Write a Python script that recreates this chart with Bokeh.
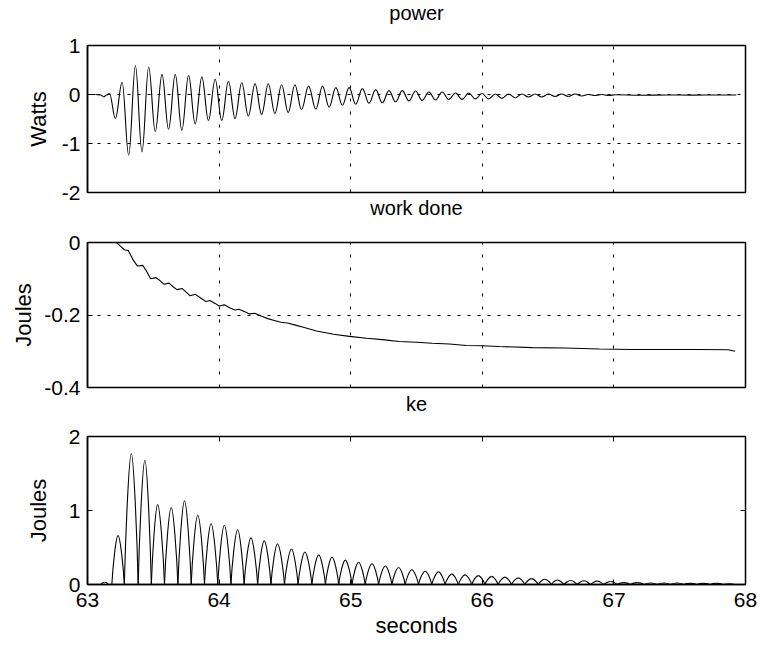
from bokeh.plotting import figure
from bokeh.layouts import column
from bokeh.models import Range1d, FixedTicker, LinearAxis, Grid, Title
from bokeh.embed import file_html
from bokeh.resources import INLINE

# ---------------- data ----------------
x_ticks = [63, 64, 65, 66, 67, 68]
x_tick_labels = ["63", "64", "65", "66", "67", "68"]

# power (Watts): successive extremes of the oscillation
pw_t = [63.00, 63.06, 63.10, 63.124, 63.145, 63.167, 63.212, 63.263, 63.313, 63.364,
        63.414, 63.465, 63.515, 63.566, 63.616, 63.667, 63.717, 63.768, 63.818, 63.869,
        63.919, 63.970, 64.020, 64.071, 64.121, 64.172, 64.222, 64.273, 64.323, 64.374,
        64.424, 64.475, 64.525, 64.576, 64.626, 64.680, 64.735, 64.786, 64.836, 64.887,
        64.937, 64.988, 65.038, 65.089, 65.139, 65.190, 65.240, 65.291, 65.341, 65.392,
        65.442, 65.493, 65.543, 65.594, 65.644, 65.695, 65.745, 65.796, 65.846, 65.897,
        65.947, 65.998, 66.048, 66.099, 66.149, 66.200, 66.250, 66.301, 66.351, 66.402,
        66.452, 66.503, 66.553, 66.604, 66.654, 66.705, 66.755, 66.806, 66.856, 66.907,
        66.96, 67.01, 67.2, 67.4, 67.6, 67.8, 67.93]
pw_v = [0, 0, -0.01, -0.05, -0.01, 0.02, -0.49, 0.25, -1.24, 0.59,
        -1.17, 0.56, -0.76, 0.41, -0.71, 0.41, -0.73, 0.39, -0.60, 0.36,
        -0.53, 0.31, -0.53, 0.27, -0.49, 0.24, -0.44, 0.22, -0.41, 0.22,
        -0.39, 0.20, -0.37, 0.20, -0.31, 0.17, -0.30, 0.17, -0.26, 0.14,
        -0.22, 0.14, -0.20, 0.12, -0.18, 0.10, -0.17, 0.08, -0.15, 0.08,
        -0.13, 0.07, -0.12, 0.05, -0.11, 0.05, -0.10, 0.03, -0.10, 0.03,
        -0.09, 0.02, -0.09, 0.01, -0.08, 0.01, -0.07, 0.01, -0.05, 0.01,
        -0.05, 0.01, -0.04, 0.01, -0.04, 0.01, -0.03, 0.00, -0.02, 0.00,
        -0.02, -0.005, -0.015, -0.01, -0.012, -0.01, -0.01]
pw_ticks = [-2, -1, 0, 1]
pw_tick_labels = ["-2", "-1", "0", "1"]

# work done (Joules)
wd_t = [63.00, 63.22, 63.25, 63.28, 63.31, 63.35, 63.38, 63.42, 63.45, 63.48,
        63.52, 63.55, 63.58, 63.62, 63.65, 63.68, 63.72, 63.75, 63.78, 63.82,
        63.86, 63.90, 63.93, 63.97, 64.00, 64.04, 64.08, 64.12, 64.15, 64.20,
        64.23, 64.27, 64.32, 64.37, 64.42, 64.47, 64.52, 64.58, 64.64, 64.70,
        64.74, 64.87, 64.99, 65.12, 65.24, 65.37, 65.50, 65.62, 65.75, 65.88,
        66.00, 66.13, 66.38, 66.63, 66.89, 67.14, 67.64, 67.87, 67.92]
wd_v = [0, 0, -0.01, -0.02, -0.022, -0.05, -0.065, -0.063, -0.08, -0.10,
        -0.097, -0.105, -0.115, -0.112, -0.122, -0.13, -0.127, -0.137, -0.147, -0.143,
        -0.153, -0.163, -0.16, -0.168, -0.175, -0.172, -0.18, -0.186, -0.184, -0.192,
        -0.197, -0.195, -0.203, -0.21, -0.215, -0.22, -0.222, -0.228, -0.234, -0.240,
        -0.244, -0.253, -0.259, -0.264, -0.268, -0.273, -0.275, -0.278, -0.28, -0.284,
        -0.285, -0.287, -0.29, -0.291, -0.294, -0.295, -0.295, -0.296, -0.30]
wd_ticks = [-0.4, -0.2, 0]
wd_tick_labels = ["-0.4", "-0.2", "0"]

# kinetic energy (Joules): peaks and the zero points between them
ke_peak_t = [63.13, 63.232, 63.333, 63.436, 63.533, 63.636, 63.737, 63.838, 63.939, 64.040,
             64.141, 64.242, 64.343, 64.444, 64.550, 64.652, 64.757, 64.858, 64.959, 65.060,
             65.162, 65.263, 65.364, 65.465, 65.566, 65.667, 65.768, 65.869, 65.970, 66.071,
             66.172, 66.273, 66.374, 66.475, 66.570, 66.672, 66.773, 66.874, 66.975, 67.076,
             67.177, 67.278, 67.380, 67.480, 67.580, 67.680, 67.780, 67.880]
ke_peak_v = [0.03, 0.66, 1.77, 1.68, 1.08, 1.04, 1.13, 0.94, 0.82, 0.80,
             0.74, 0.63, 0.59, 0.55, 0.48, 0.44, 0.40, 0.37, 0.33, 0.30,
             0.28, 0.25, 0.23, 0.20, 0.18, 0.17, 0.14, 0.13, 0.12, 0.11,
             0.10, 0.09, 0.08, 0.07, 0.06, 0.055, 0.05, 0.045, 0.04, 0.025,
             0.025, 0.02, 0.02, 0.02, 0.015, 0.015, 0.015, 0.01]
ke_zero_t = [63.00, 63.10, 63.16, 63.185, 63.28, 63.385, 63.485, 63.585, 63.687, 63.788,
             63.889, 63.990, 64.090, 64.190, 64.293, 64.394, 64.497, 64.600, 64.705, 64.808,
             64.909, 65.010, 65.110, 65.212, 65.313, 65.414, 65.515, 65.616, 65.717, 65.818,
             65.920, 66.020, 66.120, 66.222, 66.323, 66.424, 66.525, 66.620, 66.720, 66.820,
             66.920, 67.025, 67.125, 67.230, 67.330, 67.430, 67.530, 67.630, 67.730, 67.830,
             67.920]
ke_ticks = [0, 1, 2]
ke_tick_labels = ["0", "1", "2"]

# ---------------- styling ----------------
FONT = "Liberation Sans"
TICK_SIZE = "21px"
LABEL_SIZE = "22px"
TITLE_SIZE = "20px"
W = 758
LEFT = 87
RIGHT = 13


def smooth_segments(ts, vs, k0, k1, sharp_zero=False):
    """Cubic segments joining consecutive read extremes (flat at the extremes)."""
    seg = dict(x0=[], y0=[], x1=[], y1=[], cx0=[], cy0=[], cx1=[], cy1=[])
    for i in range(len(ts) - 1):
        t0, v0, t1, v1 = ts[i], vs[i], ts[i + 1], vs[i + 1]
        dt = t1 - t0
        seg["x0"].append(t0); seg["y0"].append(v0)
        seg["x1"].append(t1); seg["y1"].append(v1)
        if sharp_zero and v0 == 0 and v1 != 0:
            seg["cx0"].append(t0 + 0.15 * dt); seg["cy0"].append(0.35 * v1)
            seg["cx1"].append(t1 - k1 * dt); seg["cy1"].append(v1)
        elif sharp_zero and v1 == 0 and v0 != 0:
            seg["cx0"].append(t0 + k1 * dt); seg["cy0"].append(v0)
            seg["cx1"].append(t1 - 0.15 * dt); seg["cy1"].append(0.35 * v0)
        else:
            seg["cx0"].append(t0 + k0 * dt); seg["cy0"].append(v0)
            seg["cx1"].append(t1 - k0 * dt); seg["cy1"].append(v1)
    return seg


def base_fig(height, ylo, yhi, top, bottom, with_x_axis):
    p = figure(width=W, height=height, x_range=Range1d(63, 68), y_range=Range1d(ylo, yhi),
               x_axis_location="below" if with_x_axis else None,
               toolbar_location=None, output_backend="svg",
               min_border_left=LEFT, min_border_right=RIGHT,
               min_border_top=top, min_border_bottom=bottom)
    p.outline_line_color = "black"
    p.outline_line_width = 1.5
    p.outline_line_alpha = 1.0
    p.background_fill_color = "white"
    p.border_fill_color = "white"
    p.grid.visible = False
    return p


def style_yaxis(p, ylabel, yticks, ylabels, label_standoff):
    ya = p.yaxis[0]
    ya.ticker = FixedTicker(ticks=yticks)
    ya.major_label_overrides = dict(zip(yticks, ylabels))
    ya.axis_label = ylabel
    ya.axis_label_text_font = FONT
    ya.axis_label_text_font_size = LABEL_SIZE
    ya.axis_label_text_font_style = "normal"
    ya.axis_label_text_color = "black"
    ya.axis_label_standoff = label_standoff
    ya.major_label_text_font = FONT
    ya.major_label_text_font_size = TICK_SIZE
    ya.major_label_text_color = "black"
    ya.major_label_standoff = 7
    ya.major_tick_in = 5
    ya.major_tick_out = 0
    ya.minor_tick_line_color = None
    ya.axis_line_color = "black"
    ya.axis_line_width = 1.5
    ya.major_tick_line_color = "black"


def add_grids(p, yticks):
    p.add_layout(Grid(dimension=0, ticker=FixedTicker(ticks=x_ticks),
                      grid_line_color="black", grid_line_width=1, grid_line_dash="3 10"))
    p.add_layout(Grid(dimension=1, ticker=FixedTicker(ticks=yticks),
                      grid_line_color="black", grid_line_width=1, grid_line_dash="3 7"))


def make_title(text, standoff, valign="bottom"):
    return Title(text=text, align="center", text_font=FONT, text_font_size=TITLE_SIZE,
                 text_font_style="normal", text_color="black", standoff=standoff,
                 vertical_align=valign)


# --- header strip that carries the "power" title ---
p0 = figure(width=W, height=26, x_range=Range1d(63, 68), y_range=Range1d(0, 1),
            x_axis_location=None, y_axis_location=None,
            toolbar_location=None, output_backend="svg",
            min_border_left=LEFT, min_border_right=RIGHT,
            min_border_top=0, min_border_bottom=25)
p0.outline_line_color = None
p0.grid.visible = False
p0.background_fill_color = "white"
p0.border_fill_color = "white"
p0.add_layout(make_title("power", 0, "top"), "below")

# --- power (its bottom border also carries the next panel's title) ---
p1 = base_fig(200, -2, 1, 19, 34, False)
p1.add_layout(make_title("work done", 5), "below")
style_yaxis(p1, "Watts", pw_ticks, pw_tick_labels, 8)
add_grids(p1, pw_ticks)
p1.bezier(line_color="black", line_width=1.1, **smooth_segments(pw_t, pw_v, 0.38, 0.38))

# --- work done ---
p2 = base_fig(191, -0.4, 0, 16, 30, False)
p2.add_layout(make_title("ke", 6), "below")
style_yaxis(p2, "Joules", wd_ticks, wd_tick_labels, 5)
add_grids(p2, wd_ticks)
p2.line(wd_t, wd_v, line_color="black", line_width=1.1)

# --- ke ---
ke_pairs = sorted(list(zip(ke_peak_t, ke_peak_v)) + [(t, 0.0) for t in ke_zero_t])
ke_t = [q[0] for q in ke_pairs]
ke_v = [q[1] for q in ke_pairs]

p3 = base_fig(228, 0, 2, 19, 61, True)
style_yaxis(p3, "Joules", ke_ticks, ke_tick_labels, 15)
xa = p3.xaxis[0]
xa.ticker = FixedTicker(ticks=x_ticks)
xa.major_label_overrides = dict(zip(x_ticks, x_tick_labels))
xa.axis_label = "seconds"
xa.axis_label_text_font = FONT
xa.axis_label_text_font_size = LABEL_SIZE
xa.axis_label_text_font_style = "normal"
xa.axis_label_text_color = "black"
xa.axis_label_standoff = 3
xa.major_label_text_font = FONT
xa.major_label_text_font_size = TICK_SIZE
xa.major_label_text_color = "black"
xa.major_label_standoff = 8
xa.major_tick_in = 5
xa.major_tick_out = 0
xa.minor_tick_line_color = None
xa.axis_line_color = "black"
xa.axis_line_width = 1.5

top_ax = LinearAxis(ticker=FixedTicker(ticks=x_ticks), major_label_text_font_size="1px",
                    major_label_text_color=None, major_label_standoff=0,
                    major_tick_in=5, major_tick_out=0,
                    minor_tick_line_color=None, axis_line_color=None)
p3.add_layout(top_ax, "above")
right_ax = LinearAxis(ticker=FixedTicker(ticks=ke_ticks), major_label_text_font_size="1px",
                      major_label_text_color=None, major_label_standoff=0,
                      major_tick_in=5, major_tick_out=0,
                      minor_tick_line_color=None, axis_line_color=None)
p3.add_layout(right_ax, "right")
p3.bezier(line_color="black", line_width=1.1,
          **smooth_segments(ke_t, ke_v, 0.38, 0.33, sharp_zero=True))

layout = column(p0, p1, p2, p3, spacing=0)
open("out.html", "w").write(file_html(layout, INLINE))
